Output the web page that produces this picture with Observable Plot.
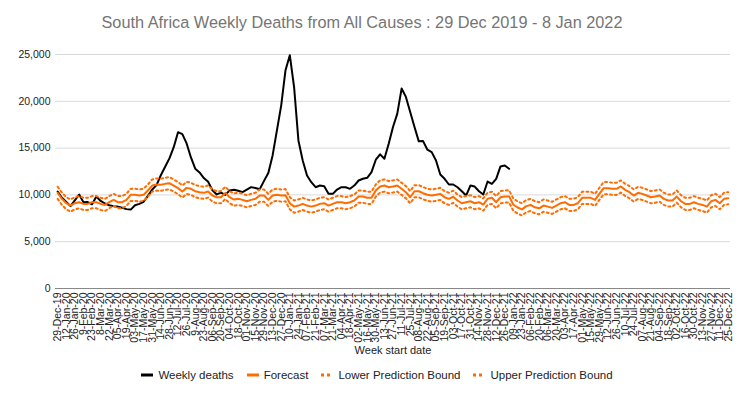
<!DOCTYPE html>
<html>
<head>
<meta charset="utf-8">
<script src="https://cdn.jsdelivr.net/npm/d3@7"></script>
<script src="https://cdn.jsdelivr.net/npm/@observablehq/plot@0.6"></script>
<style>
  body { margin: 0; background: #fff; font-family: "Liberation Sans", Arial, sans-serif; }
  #title { width: 750px; height: 44px; line-height: 44px; text-align: center; font-size: 16.3px; color: #757575; padding-right: 26px; box-sizing: border-box; }
  #legend { width: 750px; height: 30px; display: flex; justify-content: center; align-items: center; font-size: 11.5px; color: #222; gap: 13px; padding-left: 4px; box-sizing: border-box; }
  .item { display: flex; align-items: center; gap: 5px; }
  svg { display: block; }
</style>
</head>
<body>
<div id="title">South Africa Weekly Deaths from All Causes : 29 Dec 2019 - 8 Jan 2022</div>
<div id="chart"></div>
<div id="legend"></div>
<script>
// Tick labels: every second week, 29-Dec-19 .. 25-Dec-22
const tickLabels = ["29-Dec-19","12-Jan-20","26-Jan-20","9-Feb-20","23-Feb-20","8-Mar-20","22-Mar-20","05-Apr-20","19-Apr-20","03-May-20","17-May-20","31-May-20","14-Jun-20","28-Jun-20","12-Jul-20","26-Jul-20","9-Aug-20","23-Aug-20","06-Sep-20","20-Sep-20","04-Oct-20","18-Oct-20","01-Nov-20","15-Nov-20","29-Nov-20","13-Dec-20","27-Dec-20","10-Jan-21","24-Jan-21","07-Feb-21","21-Feb-21","07-Mar-21","21-Mar-21","04-Apr-21","18-Apr-21","02-May-21","16-May-21","30-May-21","13-Jun-21","27-Jun-21","11-Jul-21","25-Jul-21","08-Aug-21","22-Aug-21","05-Sep-21","19-Sep-21","03-Oct-21","17-Oct-21","31-Oct-21","14-Nov-21","28-Nov-21","12-Dec-21","26-Dec-21","09-Jan-22","23-Jan-22","06-Feb-22","20-Feb-22","06-Mar-22","20-Mar-22","03-Apr-22","17-Apr-22","01-May-22","15-May-22","29-May-22","12-Jun-22","26-Jun-22","10-Jul-22","24-Jul-22","07-Aug-22","21-Aug-22","04-Sep-22","18-Sep-22","02-Oct-22","16-Oct-22","30-Oct-22","13-Nov-22","27-Nov-22","11-Dec-22","25-Dec-22"];

// Weekly deaths (week 0 = 29-Dec-19 ... week 105 = 02-Jan-22)
const weeklyDeaths = [10360,9700,9250,8800,9420,10040,9220,9230,9000,9820,
9350,9080,8900,8800,8750,8620,8480,8430,8900,9040,
9270,9900,10570,11050,12100,13000,13900,15100,16700,16500,
15500,14000,12800,12400,11800,11400,10500,10050,10250,10000,
10480,10560,10450,10300,10560,10830,10730,10600,11500,12350,
14220,16900,19570,23320,24930,21500,15820,13680,12070,11360,
10820,11000,10930,10130,10110,10570,10820,10820,10650,11000,
11540,11720,11830,12430,13760,14330,13860,15470,17250,18680,
21360,20470,18860,17250,15720,15750,14830,14570,13680,12180,
11720,11110,11110,10820,10390,9930,11000,10890,10390,10040,
11430,11180,11720,13040,13150,12790];

// Forecast (week 0 .. 156)
const forecast = [10220,9580,9110,8860,9110,9220,9040,9040,9220,9220,
9040,8930,9220,9470,9220,9220,9470,10010,10010,9930,
10010,10470,11000,11110,11080,11180,11250,11000,10720,10360,
10750,10650,10400,10290,10220,10360,9930,9750,9750,10220,
9750,9500,9580,9470,9320,9470,9580,9930,9930,9470,
9930,10010,9930,9970,9100,8750,8860,9040,8860,8750,
8860,9040,9110,8860,9040,9220,9220,9110,9220,9400,
9820,9820,9690,9690,10470,10900,11000,10820,10900,11000,
10650,10290,9750,10390,10390,10180,10010,9930,10010,10110,
9750,9580,9800,9400,9110,9220,9320,9110,9220,8970,
9580,9690,9220,9750,9820,9840,8950,8650,8450,8800,
8930,8680,8570,8860,8750,8610,8860,9110,9220,8930,
8930,9110,9690,9690,9690,9470,10110,10720,10720,10650,
10650,10900,10540,10290,9930,10220,10110,9930,9750,9820,
9930,9580,9400,9400,9820,9320,9040,9040,9220,9040,
8930,8750,9320,9470,9110,9580,9640];

const lowerBound = [9570,8930,8460,8210,8460,8570,8390,8390,8570,8570,
8390,8280,8570,8820,8570,8570,8820,9360,9360,9280,
9360,9820,10350,10460,10430,10530,10600,10350,10070,9710,
10100,10000,9750,9640,9570,9710,9280,9100,9100,9570,
9100,8850,8930,8820,8670,8820,8930,9280,9280,8820,
9280,9360,9280,9320,8450,8100,8210,8390,8210,8100,
8210,8390,8460,8210,8390,8570,8570,8460,8570,8750,
9170,9170,9040,9040,9820,10250,10350,10170,10250,10350,
10000,9640,9100,9740,9740,9530,9360,9280,9360,9460,
9100,8930,9150,8750,8460,8570,8670,8460,8570,8320,
8930,9040,8570,9100,9170,9190,8300,8000,7800,8150,
8280,8030,7920,8210,8100,7960,8210,8460,8570,8280,
8280,8460,9040,9040,9040,8820,9460,10070,10070,10000,
10000,10250,9890,9640,9280,9570,9460,9280,9100,9170,
9280,8930,8750,8750,9170,8670,8390,8390,8570,8390,
8280,8100,8670,8820,8460,8930,8990];

const upperBound = [10870,10230,9760,9510,9760,9870,9690,9690,9870,9870,
9690,9580,9870,10120,9870,9870,10120,10660,10660,10580,
10660,11120,11650,11760,11730,11830,11900,11650,11370,11010,
11400,11300,11050,10940,10870,11010,10580,10400,10400,10870,
10400,10150,10230,10120,9970,10120,10230,10580,10580,10120,
10580,10660,10580,10620,9750,9400,9510,9690,9510,9400,
9510,9690,9760,9510,9690,9870,9870,9760,9870,10050,
10470,10470,10340,10340,11120,11550,11650,11470,11550,11650,
11300,10940,10400,11040,11040,10830,10660,10580,10660,10760,
10400,10230,10450,10050,9760,9870,9970,9760,9870,9620,
10230,10340,9870,10400,10470,10490,9600,9300,9100,9450,
9580,9330,9220,9510,9400,9260,9510,9760,9870,9580,
9580,9760,10340,10340,10340,10120,10760,11370,11370,11300,
11300,11550,11190,10940,10580,10870,10760,10580,10400,10470,
10580,10230,10050,10050,10470,9970,9690,9690,9870,9690,
9580,9400,9970,10120,9760,10230,10290];

const yTicks = [0, 5000, 10000, 15000, 20000, 25000];
const seriesNames = ["Weekly deaths", "Forecast", "Lower Prediction Bound", "Upper Prediction Bound"];

const ORANGE = "#ff6d01";
const idx = (d, i) => i;
const val = d => d;

const chart = Plot.plot({
  width: 750,
  height: 316,
  marginTop: 10,
  marginBottom: 72,
  marginLeft: 55,
  marginRight: 20,
  style: { fontFamily: '"Liberation Sans", Arial, sans-serif', background: "#fff", color: "#222" },
  x: {
    type: "linear",
    domain: [-0.5, 156.5],
    ticks: d3.range(0, 157, 2),
    tickFormat: i => tickLabels[Math.round(i / 2)],
    tickRotate: -90,
    tickSize: 0,
    tickPadding: 4,
    label: null
  },
  y: {
    domain: [0, 25000],
    ticks: yTicks,
    tickFormat: d3.format(","),
    tickSize: 0,
    tickPadding: 5,
    label: null
  },
  marks: [
    Plot.ruleY(yTicks.filter(d => d > 0), { stroke: "#d9d9d9", strokeWidth: 1 }),
    Plot.ruleY([0], { stroke: "#888", strokeWidth: 1 }),
    Plot.line(weeklyDeaths, { x: idx, y: val, stroke: "#000", strokeWidth: 2 }),
    Plot.line(lowerBound, { x: idx, y: val, stroke: ORANGE, strokeWidth: 2, strokeDasharray: "2,3" }),
    Plot.line(upperBound, { x: idx, y: val, stroke: ORANGE, strokeWidth: 2, strokeDasharray: "2,3" }),
    Plot.line(forecast, { x: idx, y: val, stroke: ORANGE, strokeWidth: 2 }),
    Plot.text(["Week start date"], { frameAnchor: "bottom", lineAnchor: "middle", dy: 62, fontSize: 11, fill: "#222" })
  ]
});
document.getElementById("chart").appendChild(chart);
// Axis label font sizes
chart.querySelectorAll("g[aria-label^='x-axis'] text").forEach(t => t.setAttribute("font-size", "10.5"));
chart.querySelectorAll("g[aria-label^='y-axis'] text").forEach(t => t.setAttribute("font-size", "10.5"));
chart.querySelectorAll("g[aria-label^='x-axis']").forEach(g => g.setAttribute("font-size", "10.5"));
chart.querySelectorAll("g[aria-label^='y-axis']").forEach(g => g.setAttribute("font-size", "10.5"));

// Legend
const legend = document.getElementById("legend");
const swatches = [
  `<svg width="12" height="6"><line x1="0" x2="12" y1="3" y2="3" stroke="#000" stroke-width="3"/></svg>`,
  `<svg width="12" height="6"><line x1="0" x2="12" y1="3" y2="3" stroke="${ORANGE}" stroke-width="3"/></svg>`,
  `<svg width="12" height="6"><line x1="0" x2="12" y1="3" y2="3" stroke="${ORANGE}" stroke-width="3" stroke-dasharray="3,3"/></svg>`,
  `<svg width="12" height="6"><line x1="0" x2="12" y1="3" y2="3" stroke="${ORANGE}" stroke-width="3" stroke-dasharray="3,3"/></svg>`
];
seriesNames.forEach((name, i) => {
  const el = document.createElement("div");
  el.className = "item";
  el.innerHTML = swatches[i] + `<span>${name}</span>`;
  legend.appendChild(el);
});
</script>
</body>
</html>
